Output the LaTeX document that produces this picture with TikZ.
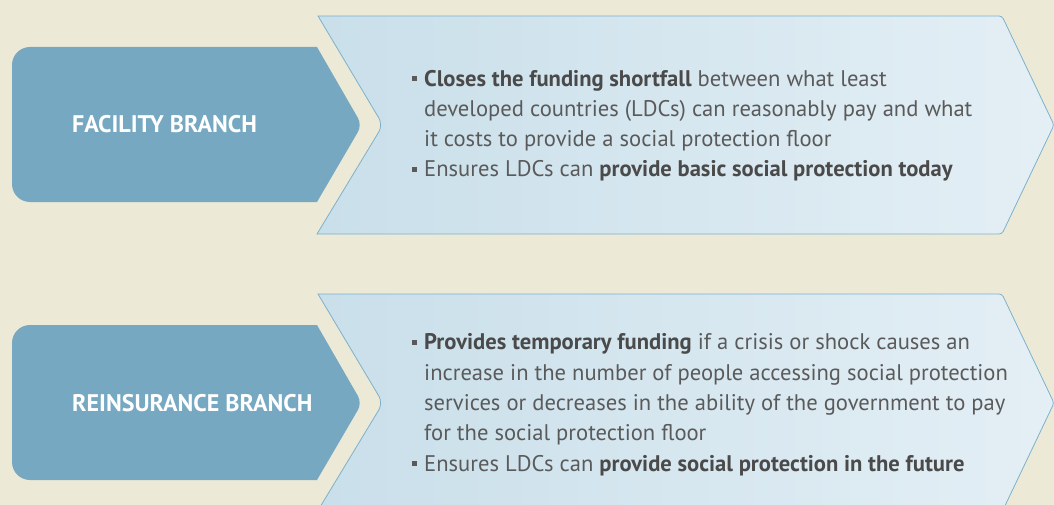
\documentclass[tikz,border=0pt]{standalone}
\usepackage{fontspec}
\setmainfont{PT Sans}
\definecolor{bg}{HTML}{ECEAD7}
\definecolor{boxblue}{HTML}{77A8C1}
\definecolor{chevL}{HTML}{C9DFEA}
\definecolor{chevR}{HTML}{E4EFF5}
\definecolor{chevline}{HTML}{7DB1CB}
\definecolor{txt}{HTML}{5A5A5A}
\definecolor{txtb}{HTML}{4A4A4A}
\newcommand\mybul{\makebox[14pt][l]{\hspace{2pt}\raisebox{5pt}{\rule{5pt}{5pt}}}}
\newcommand\myind{\hspace*{14pt}}
\newcommand\myb[1]{\textbf{\color{txtb}#1}}
\begin{document}
\begin{tikzpicture}[x=1pt,y=-1pt,
  branchbox/.style={fill=boxblue, draw=none},
  chevron/.style={left color=chevL, right color=chevR, draw=chevline, line width=0.8pt},
  heading/.style={anchor=base west, inner sep=0pt, text=white, font=\fontsize{24}{28}\selectfont\bfseries},
  body/.style={anchor=base west, inner sep=0pt, align=left, text=txt, font=\fontsize{22.6}{30.3}\selectfont}]
\useasboundingbox (0,0) rectangle (1054,505);
\fill[bg] (0,0) rectangle (1054,505);
\clip (0,0) rectangle (1054,505);
% top row
\path[chevron] (318,16) [rounded corners=3] -- (1002,16) -- (1054,125) -- (1002,234) [sharp corners] -- (317,234) [rounded corners=8] -- (383,125) [sharp corners] -- cycle;
\path[branchbox] (317,47) [rounded corners=8] -- (362,125) [sharp corners] -- (317,202) [rounded corners=18] -- (12,202) -- (12,47) [sharp corners] -- cycle;
\node[heading] (h1) at (72,133) {FACILITY BRANCH};
\node[body] (t1) at (410,177) {\mybul\myb{Closes the funding shortfall} between what least\\
\myind developed countries (LDCs) can reasonably pay and what\\
\myind it costs to provide a social protection floor\\
\mybul Ensures LDCs can \myb{provide basic social protection today}};
% bottom row
\path[chevron] (318,294) [rounded corners=3] -- (1002,294) -- (1054,403) -- (1002,512) [sharp corners] -- (317,512) [rounded corners=8] -- (383,403) [sharp corners] -- cycle;
\path[branchbox] (317,325) [rounded corners=8] -- (362,403) [sharp corners] -- (317,480) [rounded corners=18] -- (12,480) -- (12,325) [sharp corners] -- cycle;
\node[heading] (h2) at (72,411) {REINSURANCE BRANCH};
\node[body] (t2) at (410,471) {\mybul\myb{Provides temporary funding} if a crisis or shock causes an\\
\myind increase in the number of people accessing social protection\\
\myind services or decreases in the ability of the government to pay\\
\myind for the social protection floor\\
\mybul Ensures LDCs can \myb{provide social protection in the future}};
\end{tikzpicture}
\end{document}
